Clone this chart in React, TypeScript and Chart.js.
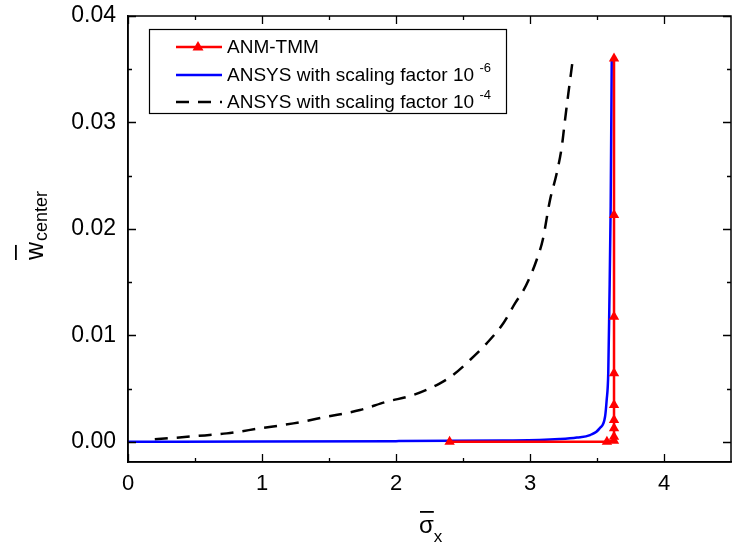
import React, { useEffect, useRef } from "react";
import { Chart, registerables } from "chart.js";

Chart.register(...registerables);

// ANM-TMM (red, triangles)
const anmX = [2.4, 3.574, 3.627, 3.627, 3.627, 3.627, 3.627, 3.627, 3.627, 3.627, 3.627];
const anmY = [0, 0, 0.0001, 0.00047, 0.00126, 0.00204, 0.00345, 0.00643, 0.01175, 0.0213, 0.036];

// ANSYS with scaling factor 10^-6 (blue)
const ansys6X = [0, 1.0, 2.0, 2.8, 3.07, 3.22, 3.35, 3.448, 3.522, 3.56, 3.572, 3.584, 3.592, 3.602, 3.61];
const ansys6Y = [0, 0.00002, 0.00006, 0.00012, 0.00016, 0.00025, 0.0004, 0.00063, 0.00129, 0.00235, 0.0039, 0.00645, 0.0127, 0.0221, 0.0359];

// ANSYS with scaling factor 10^-4 (black dashed)
const ansys4X = [0.2, 0.513, 0.737, 0.985, 1.234, 1.483, 1.731, 1.93, 2.129, 2.328, 2.425, 2.552, 2.677, 2.801, 2.888, 2.95, 3.0, 3.05, 3.095, 3.149, 3.199, 3.237, 3.261, 3.286, 3.316];
const ansys4Y = [0.00023, 0.00054, 0.00079, 0.00126, 0.00173, 0.00235, 0.00298, 0.00376, 0.00439, 0.00549, 0.00627, 0.00768, 0.00925, 0.01113, 0.013, 0.0142, 0.0155, 0.0171, 0.01895, 0.0227, 0.0252, 0.0277, 0.0302, 0.0327, 0.0356];

const xTicks = [0, 1, 2, 3, 4];
const xMinorTicks = [0.5, 1.5, 2.5, 3.5];
const yTicks = [0, 0.01, 0.02, 0.03, 0.04];
const yMinorTicks = [0.005, 0.015, 0.025, 0.035];

const legendLabels = ["ANM-TMM", "ANSYS with scaling factor 10", "ANSYS with scaling factor 10"];
const legendSups = ["", "-6", "-4"];

const FONT = "Arial, 'Liberation Sans', sans-serif";

const zip = (xs: number[], ys: number[]) => xs.map((x, i) => ({ x, y: ys[i] }));

const framePlugin = {
  id: "frameTicks",
  afterDatasetsDraw(chart: any) {
    const { ctx, chartArea: a, scales } = chart;
    const xs = scales.x;
    const ys = scales.y;
    ctx.save();
    ctx.strokeStyle = "#000";
    ctx.lineWidth = 1.5;
    ctx.strokeRect(a.left, a.top, a.right - a.left, a.bottom - a.top);
    ctx.lineWidth = 1.3;
    ctx.beginPath();
    const xt = (v: number, len: number) => {
      const p = Math.round(xs.getPixelForValue(v)) + 0.5;
      ctx.moveTo(p, a.bottom);
      ctx.lineTo(p, a.bottom - len);
      ctx.moveTo(p, a.top);
      ctx.lineTo(p, a.top + len);
    };
    const yt = (v: number, len: number) => {
      const p = Math.round(ys.getPixelForValue(v)) + 0.5;
      ctx.moveTo(a.left, p);
      ctx.lineTo(a.left + len, p);
      ctx.moveTo(a.right, p);
      ctx.lineTo(a.right - len, p);
    };
    xTicks.forEach((v) => xt(v, 8));
    xMinorTicks.forEach((v) => xt(v, 4));
    yTicks.forEach((v) => yt(v, 8));
    yMinorTicks.forEach((v) => yt(v, 4));
    ctx.stroke();

    // Legend
    const bx = 149, by = 29, bw = 357, bh = 84;
    ctx.fillStyle = "#fff";
    ctx.fillRect(bx, by, bw, bh);
    ctx.lineWidth = 1.2;
    ctx.strokeRect(bx + 0.5, by + 0.5, bw, bh);
    const rows = [47, 75, 102];
    const colors = ["#ff0000", "#0000ff", "#000000"];
    rows.forEach((ry, i) => {
      ctx.save();
      ctx.strokeStyle = colors[i];
      ctx.lineWidth = 2.5;
      if (i === 2) ctx.setLineDash([13, 9]);
      ctx.beginPath();
      ctx.moveTo(176, ry);
      ctx.lineTo(222, ry);
      ctx.stroke();
      ctx.restore();
      if (i === 0) {
        ctx.fillStyle = "#ff0000";
        ctx.beginPath();
        ctx.moveTo(198, ry - 6);
        ctx.lineTo(203.5, ry + 3.5);
        ctx.lineTo(192.5, ry + 3.5);
        ctx.closePath();
        ctx.fill();
      }
      ctx.fillStyle = "#000";
      ctx.font = `19px ${FONT}`;
      ctx.textBaseline = "middle";
      ctx.textAlign = "left";
      ctx.fillText(legendLabels[i], 227, ry + 1);
      if (legendSups[i]) {
        const w = ctx.measureText(legendLabels[i] + " ").width;
        ctx.font = `13px ${FONT}`;
        ctx.fillText(legendSups[i], 227 + w, ry - 7);
      }
    });

    // Axis titles
    ctx.fillStyle = "#000";
    ctx.textBaseline = "alphabetic";
    ctx.font = `24px ${FONT}`;
    ctx.textAlign = "left";
    const sx = 419, sy = 533;
    ctx.fillText("σ", sx, sy);
    const sw = ctx.measureText("σ").width;
    ctx.fillRect(sx + 1, 511, sw - 1, 1.8);
    ctx.font = `17px ${FONT}`;
    ctx.fillText("x", sx + sw, sy + 9);

    // y title rotated
    ctx.save();
    ctx.translate(43, 260);
    ctx.rotate(-Math.PI / 2);
    ctx.font = `25px ${FONT}`;
    ctx.fillText("w", 0, 0);
    const ww = ctx.measureText("w").width;
    ctx.fillRect(0, -28, ww - 3, 1.8);
    ctx.font = `18px ${FONT}`;
    ctx.fillText("center", ww + 1, 4);
    ctx.restore();

    ctx.restore();
  },
};

export default function App() {
  const ref = useRef<HTMLCanvasElement | null>(null);
  useEffect(() => {
    if (!ref.current) return;
    const chart = new Chart(ref.current, {
      type: "line",
      data: {
        datasets: [
          {
            label: "ANM-TMM",
            data: zip(anmX, anmY),
            borderColor: "#ff0000",
            backgroundColor: "#ff0000",
            borderWidth: 2.5,
            pointStyle: "triangle",
            pointRadius: 6,
            pointBorderWidth: 0,
            tension: 0,
          },
          {
            label: "ANSYS with scaling factor 10^-6",
            data: zip(ansys6X, ansys6Y),
            borderColor: "#0000ff",
            backgroundColor: "#0000ff",
            borderWidth: 2.5,
            pointRadius: 0,
            cubicInterpolationMode: "monotone",
          },
          {
            label: "ANSYS with scaling factor 10^-4",
            data: zip(ansys4X, ansys4Y),
            borderColor: "#000000",
            backgroundColor: "#000000",
            borderWidth: 2.5,
            borderDash: [13, 9],
            pointRadius: 0,
            cubicInterpolationMode: "monotone",
          },
        ],
      },
      options: {
        animation: false,
        responsive: false,
        maintainAspectRatio: false,
        layout: { autoPadding: false, padding: { top: 16, right: 1, left: 0, bottom: 0 } },
        plugins: { legend: { display: false }, tooltip: { enabled: false } },
        scales: {
          x: {
            type: "linear",
            min: 0,
            max: 4.5,
            afterBuildTicks: (s: any) => {
              s.ticks = xTicks.map((v) => ({ value: v }));
            },
            afterFit: (s: any) => {
              s.height = 83;
              s.paddingLeft = 0;
              s.paddingRight = 0;
            },
            ticks: {
              color: "#000",
              font: { size: 22, family: FONT },
              padding: 9,
              callback: (v: any) => String(v),
              maxRotation: 0,
            },
            grid: { display: false, drawTicks: false },
            border: { display: true, color: "#000", width: 1.5 },
          },
          y: {
            type: "linear",
            min: -0.0019,
            max: 0.04,
            afterBuildTicks: (s: any) => {
              s.ticks = yTicks.map((v) => ({ value: v }));
            },
            afterFit: (s: any) => {
              s.width = 128;
              s.paddingTop = 0;
              s.paddingBottom = 0;
            },
            ticks: {
              color: "#000",
              font: { size: 23, family: FONT },
              padding: 12,
              callback: (v: any) => Number(v).toFixed(2),
            },
            grid: { display: false, drawTicks: false },
            border: { display: true, color: "#000", width: 1.5 },
          },
        },
      },
      plugins: [framePlugin],
    } as any);
    return () => chart.destroy();
  }, []);
  return (
    <div style={{ position: "fixed", left: 0, top: 0, width: 732, height: 545, background: "#fff" }}>
      <canvas ref={ref} width={732} height={545} style={{ width: 732, height: 545, display: "block" }} />
    </div>
  );
}
